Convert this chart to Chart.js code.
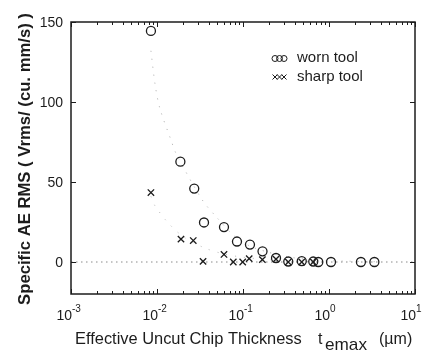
<!DOCTYPE html>
<html><head><meta charset="utf-8">
<script src="https://cdn.jsdelivr.net/npm/chart.js@4"></script>
<style>html,body{margin:0;padding:0;background:#fff}</style>
</head><body>
<canvas id="c" width="426" height="351"></canvas>
<script>
// ---- data ----
const wornX  = [0.0085, 0.0187, 0.0271, 0.0352, 0.0601, 0.0851, 0.1205, 0.1686, 0.242, 0.336, 0.482, 0.656, 0.751, 1.055, 2.35, 3.37];
const wornY  = [144.4, 62.7, 45.9, 24.7, 21.8, 12.8, 10.9, 6.7, 2.5, 0.3, 0.6, 0.3, 0, 0, 0, 0];
const sharpX = [0.0085, 0.0190, 0.0264, 0.0343, 0.0601, 0.0771, 0.0992, 0.118, 0.168, 0.242, 0.336, 0.482, 0.656];
const sharpY = [43.4, 14.3, 13.4, 0.4, 4.7, 0, 0, 2.1, 1.5, 1.8, 0, 0, 0];
const wornFitX  = [0.0085, 0.0095, 0.0108, 0.0146, 0.0166, 0.0334, 0.0512, 0.08, 0.12, 0.2, 0.35, 0.6, 1.0, 3.4];
const wornFitY  = [132, 111, 96, 76, 68, 39, 27, 16, 10, 6, 3, 1.5, 0.8, 0.2];
const sharpFitX = [0.0085, 0.0089, 0.0095, 0.0132, 0.02, 0.035, 0.06, 0.1, 0.2, 0.4, 0.7];
const sharpFitY = [41, 38.6, 35, 25, 16, 9, 5, 3, 1.5, 0.7, 0.3];
const zeroX = [0.001, 10];
const zeroY = [0, 0];
const xTicks = [0.001, 0.01, 0.1, 1, 10];
const xTickExp = ['-3', '-2', '-1', '0', '1'];
const yTicks = [0, 50, 100, 150];
const yTickLabels = ['0', '50', '100', '150'];
const seriesNames = ['worn tool', 'sharp tool'];
const yTitle = 'Specific AE RMS ( Vrms/ (cu. mm/s) )';
const xTitleMain = 'Effective Uncut Chip Thickness';
const xTitleVar = 't';
const xTitleSub = 'emax';
const xTitleUnit = '(\u00b5m)';

const pts = (xs, ys) => xs.map((v, i) => ({x: v, y: ys[i]}));
const INK = '#1c1c1c';
const FONT = '"Liberation Sans", Arial, sans-serif';

function fitFont(ctx, text, weight, target) {
  ctx.font = weight + '20px ' + FONT;
  const w = ctx.measureText(text).width;
  return weight + (20 * target / w).toFixed(2) + 'px ' + FONT;
}

const deco = {
  id: 'deco',
  afterDatasetsDraw(chart) {
    const {ctx, chartArea: a, scales: {x, y}} = chart;
    ctx.save();
    ctx.strokeStyle = INK; ctx.fillStyle = INK;
    // ticks (inward)
    ctx.lineWidth = 1;
    ctx.beginPath();
    for (let i = 0; i < xTicks.length; i++) {
      const px = Math.round(x.getPixelForValue(xTicks[i])) + 0.5;
      ctx.moveTo(px, a.bottom); ctx.lineTo(px, a.bottom - 5);
      ctx.moveTo(px, a.top); ctx.lineTo(px, a.top + 5);
      if (i < xTicks.length - 1) {
        for (let m = 2; m <= 9; m++) {
          const qx = Math.round(x.getPixelForValue(xTicks[i] * m)) + 0.5;
          ctx.moveTo(qx, a.bottom); ctx.lineTo(qx, a.bottom - 3);
          ctx.moveTo(qx, a.top); ctx.lineTo(qx, a.top + 3);
        }
      }
    }
    for (const t of yTicks) {
      const py = Math.round(y.getPixelForValue(t)) + 0.5;
      ctx.moveTo(a.left, py); ctx.lineTo(a.left + 5, py);
      ctx.moveTo(a.right, py); ctx.lineTo(a.right - 5, py);
    }
    ctx.stroke();
    // box
    ctx.lineWidth = 1.5;
    ctx.strokeRect(a.left, a.top, a.right - a.left, a.bottom - a.top);

    // y tick labels
    ctx.font = '14px ' + FONT;
    ctx.textAlign = 'right'; ctx.textBaseline = 'middle';
    yTicks.forEach((t, i) => ctx.fillText(yTickLabels[i], a.left - 8, y.getPixelForValue(t) + 1));
    // x tick labels: 10 with superscript exponent
    ctx.textBaseline = 'alphabetic';
    xTicks.forEach((t, i) => {
      const px = x.getPixelForValue(t);
      ctx.font = '14px ' + FONT; ctx.textAlign = 'right';
      ctx.fillText('10', px + 1, 320);
      ctx.font = '10px ' + FONT; ctx.textAlign = 'left';
      ctx.fillText(xTickExp[i], px + 1, 312);
    });
    // x title
    ctx.textAlign = 'left';
    ctx.font = fitFont(ctx, xTitleMain, '', 227);
    ctx.fillText(xTitleMain, 75, 344);
    ctx.font = '16px ' + FONT;
    ctx.fillText(xTitleVar, 318, 344);
    ctx.font = fitFont(ctx, xTitleSub, '', 42);
    ctx.fillText(xTitleSub, 325, 350);
    ctx.font = '16px ' + FONT;
    ctx.fillText(xTitleUnit, 379, 344);
    // y title
    ctx.save();
    ctx.translate(30, 159);
    ctx.rotate(-Math.PI / 2);
    ctx.font = fitFont(ctx, yTitle, 'bold ', 292);
    ctx.textAlign = 'center'; ctx.textBaseline = 'alphabetic';
    ctx.fillText(yTitle, 0, 0);
    ctx.restore();

    // legend
    ctx.lineWidth = 1;
    const lx = [275, 279.5, 284];
    ctx.beginPath();
    for (const cx of lx) { ctx.moveTo(cx + 3, 58.5); ctx.arc(cx, 58.5, 3, 0, Math.PI * 2); }
    ctx.stroke();
    ctx.beginPath();
    for (const cx of lx) {
      ctx.moveTo(cx - 2.5, 74.5); ctx.lineTo(cx + 2.5, 79.5);
      ctx.moveTo(cx + 2.5, 74.5); ctx.lineTo(cx - 2.5, 79.5);
    }
    ctx.stroke();
    ctx.font = '15px ' + FONT; ctx.textAlign = 'left'; ctx.textBaseline = 'alphabetic';
    ctx.fillText(seriesNames[0], 297, 62);
    ctx.fillText(seriesNames[1], 297, 81);
    ctx.restore();
  }
};

new Chart(document.getElementById('c'), {
  type: 'scatter',
  data: {
    datasets: [
      {label: seriesNames[0], data: pts(wornX, wornY), pointStyle: 'circle', pointRadius: 4.5,
       borderColor: INK, backgroundColor: 'rgba(0,0,0,0)', borderWidth: 1.3, order: 1},
      {label: seriesNames[1], data: pts(sharpX, sharpY), pointStyle: 'crossRot', pointRadius: 4.5,
       borderColor: INK, backgroundColor: INK, borderWidth: 1.3, order: 2},
      {label: 'zero', data: pts(zeroX, zeroY), showLine: true, pointRadius: 0,
       borderColor: '#8a8a8a', borderWidth: 1, borderDash: [1.5, 3.5], order: 5},
      {label: 'worn fit', data: pts(wornFitX, wornFitY), showLine: true, pointRadius: 0, tension: 0.3,
       borderColor: '#a8a8a8', borderWidth: 1, borderDash: [1, 7], order: 6},
      {label: 'sharp fit', data: pts(sharpFitX, sharpFitY), showLine: true, pointRadius: 0, tension: 0.3,
       borderColor: '#b5b5b5', borderWidth: 1, borderDash: [1, 8], order: 7}
    ]
  },
  options: {
    responsive: false, animation: false, devicePixelRatio: 1,
    layout: {padding: {left: 0, right: 11, top: 22, bottom: 0}},
    plugins: {legend: {display: false}, tooltip: {enabled: false}},
    scales: {
      x: {type: 'logarithmic', min: 0.001, max: 10,
          grid: {display: false}, border: {display: false}, ticks: {display: false},
          afterFit(s) { s.height = 57; }},
      y: {type: 'linear', min: -20, max: 150,
          grid: {display: false}, border: {display: false}, ticks: {display: false},
          afterFit(s) { s.width = 71; }}
    }
  },
  plugins: [deco]
});
</script>
</body></html>
